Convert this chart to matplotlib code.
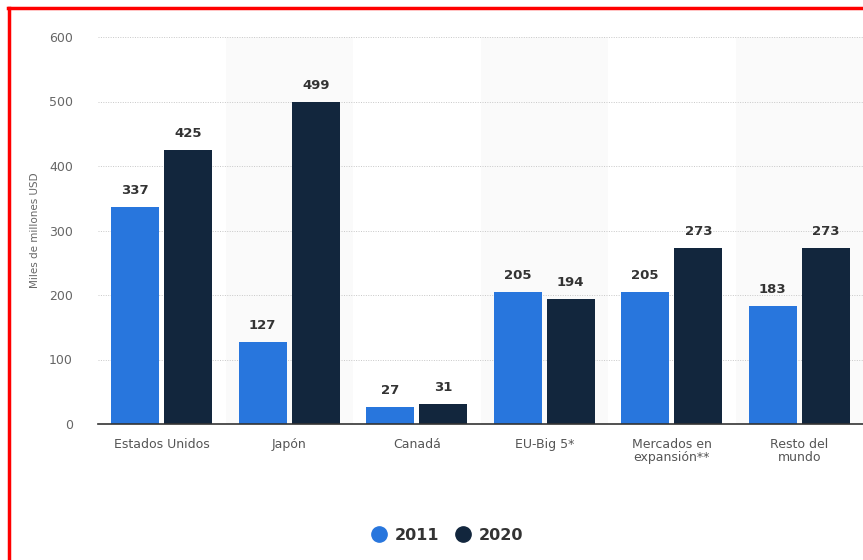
import matplotlib.pyplot as plt
import numpy as np
from matplotlib.lines import Line2D

# data
categories = ['Estados Unidos', 'Japón', 'Canadá', 'EU-Big 5*',
              'Mercados en\nexpansión**', 'Resto del\nmundo']
values_2011 = [337, 127, 27, 205, 205, 183]
values_2020 = [425, 499, 31, 194, 273, 273]
years = ['2011', '2020']

color_2011 = '#2876dd'
color_2020 = '#12263d'

plt.rcParams['font.family'] = ['DejaVu Sans']

fig = plt.figure(figsize=(8.63, 5.6), dpi=100)
ax = fig.add_axes([98 / 863, 1 - 424 / 560, 1 - 98 / 863, (424 - 37) / 560])

x = np.arange(len(categories))
width = 0.376
offset = 0.208

# alternating shaded bands
for i in x:
    if i % 2 == 1:
        ax.axvspan(i - 0.5, i + 0.5, color='#fafafa', zorder=0, lw=0)

b1 = ax.bar(x - offset, values_2011, width, color=color_2011, zorder=3)
b2 = ax.bar(x + offset, values_2020, width, color=color_2020, zorder=3)

for bars, vals in ((b1, values_2011), (b2, values_2020)):
    for rect, v in zip(bars, vals):
        ax.annotate(str(v), (rect.get_x() + rect.get_width() / 2, v),
                    xytext=(0, 7), textcoords='offset points',
                    ha='center', va='bottom', fontsize=9.5,
                    fontweight='bold', color='#333333')

ax.set_xlim(-0.5, len(categories) - 0.5)
ax.set_ylim(0, 600)
ax.set_yticks(range(0, 601, 100))
ax.yaxis.grid(True, linestyle=(0, (1, 1.5)), color='#c8c8c8', lw=0.7, zorder=1)
ax.set_axisbelow(True)

ax.set_xticks(x)
ax.set_xticklabels(categories, fontsize=9, color='#555555', linespacing=1.0)
ax.tick_params(axis='x', length=0, pad=10)
ax.tick_params(axis='y', length=0, pad=18, labelsize=9, labelcolor='#666666')

for s in ('top', 'right', 'left'):
    ax.spines[s].set_visible(False)
ax.spines['bottom'].set_color('#333333')
ax.spines['bottom'].set_linewidth(1.2)
ax.spines['bottom'].set_zorder(4)

fig.text(35 / 863, 1 - 230 / 560, 'Miles de millones USD', rotation=90,
         ha='center', va='center', fontsize=7.5, color='#666666')

# legend
handles = [Line2D([], [], marker='o', ls='', markersize=11, color=color_2011),
           Line2D([], [], marker='o', ls='', markersize=11, color=color_2020)]
leg = fig.legend(handles, years, loc='center', bbox_to_anchor=(445 / 863, 1 - 535 / 560),
                 ncol=2, frameon=False, fontsize=11.5, handletextpad=0.25,
                 columnspacing=0.75, handlelength=1.5)
for t in leg.get_texts():
    t.set_fontweight('bold')
    t.set_color('#333333')

# red frame of the screenshot
fig.add_artist(Line2D([8 / 863, 1], [1 - 8 / 560, 1 - 8 / 560], color='red', lw=2.5,
                      transform=fig.transFigure))
fig.add_artist(Line2D([8.5 / 863, 8.5 / 863], [0, 1 - 8 / 560], color='red', lw=2.5,
                      transform=fig.transFigure))

fig.savefig('out.png', dpi=100)
